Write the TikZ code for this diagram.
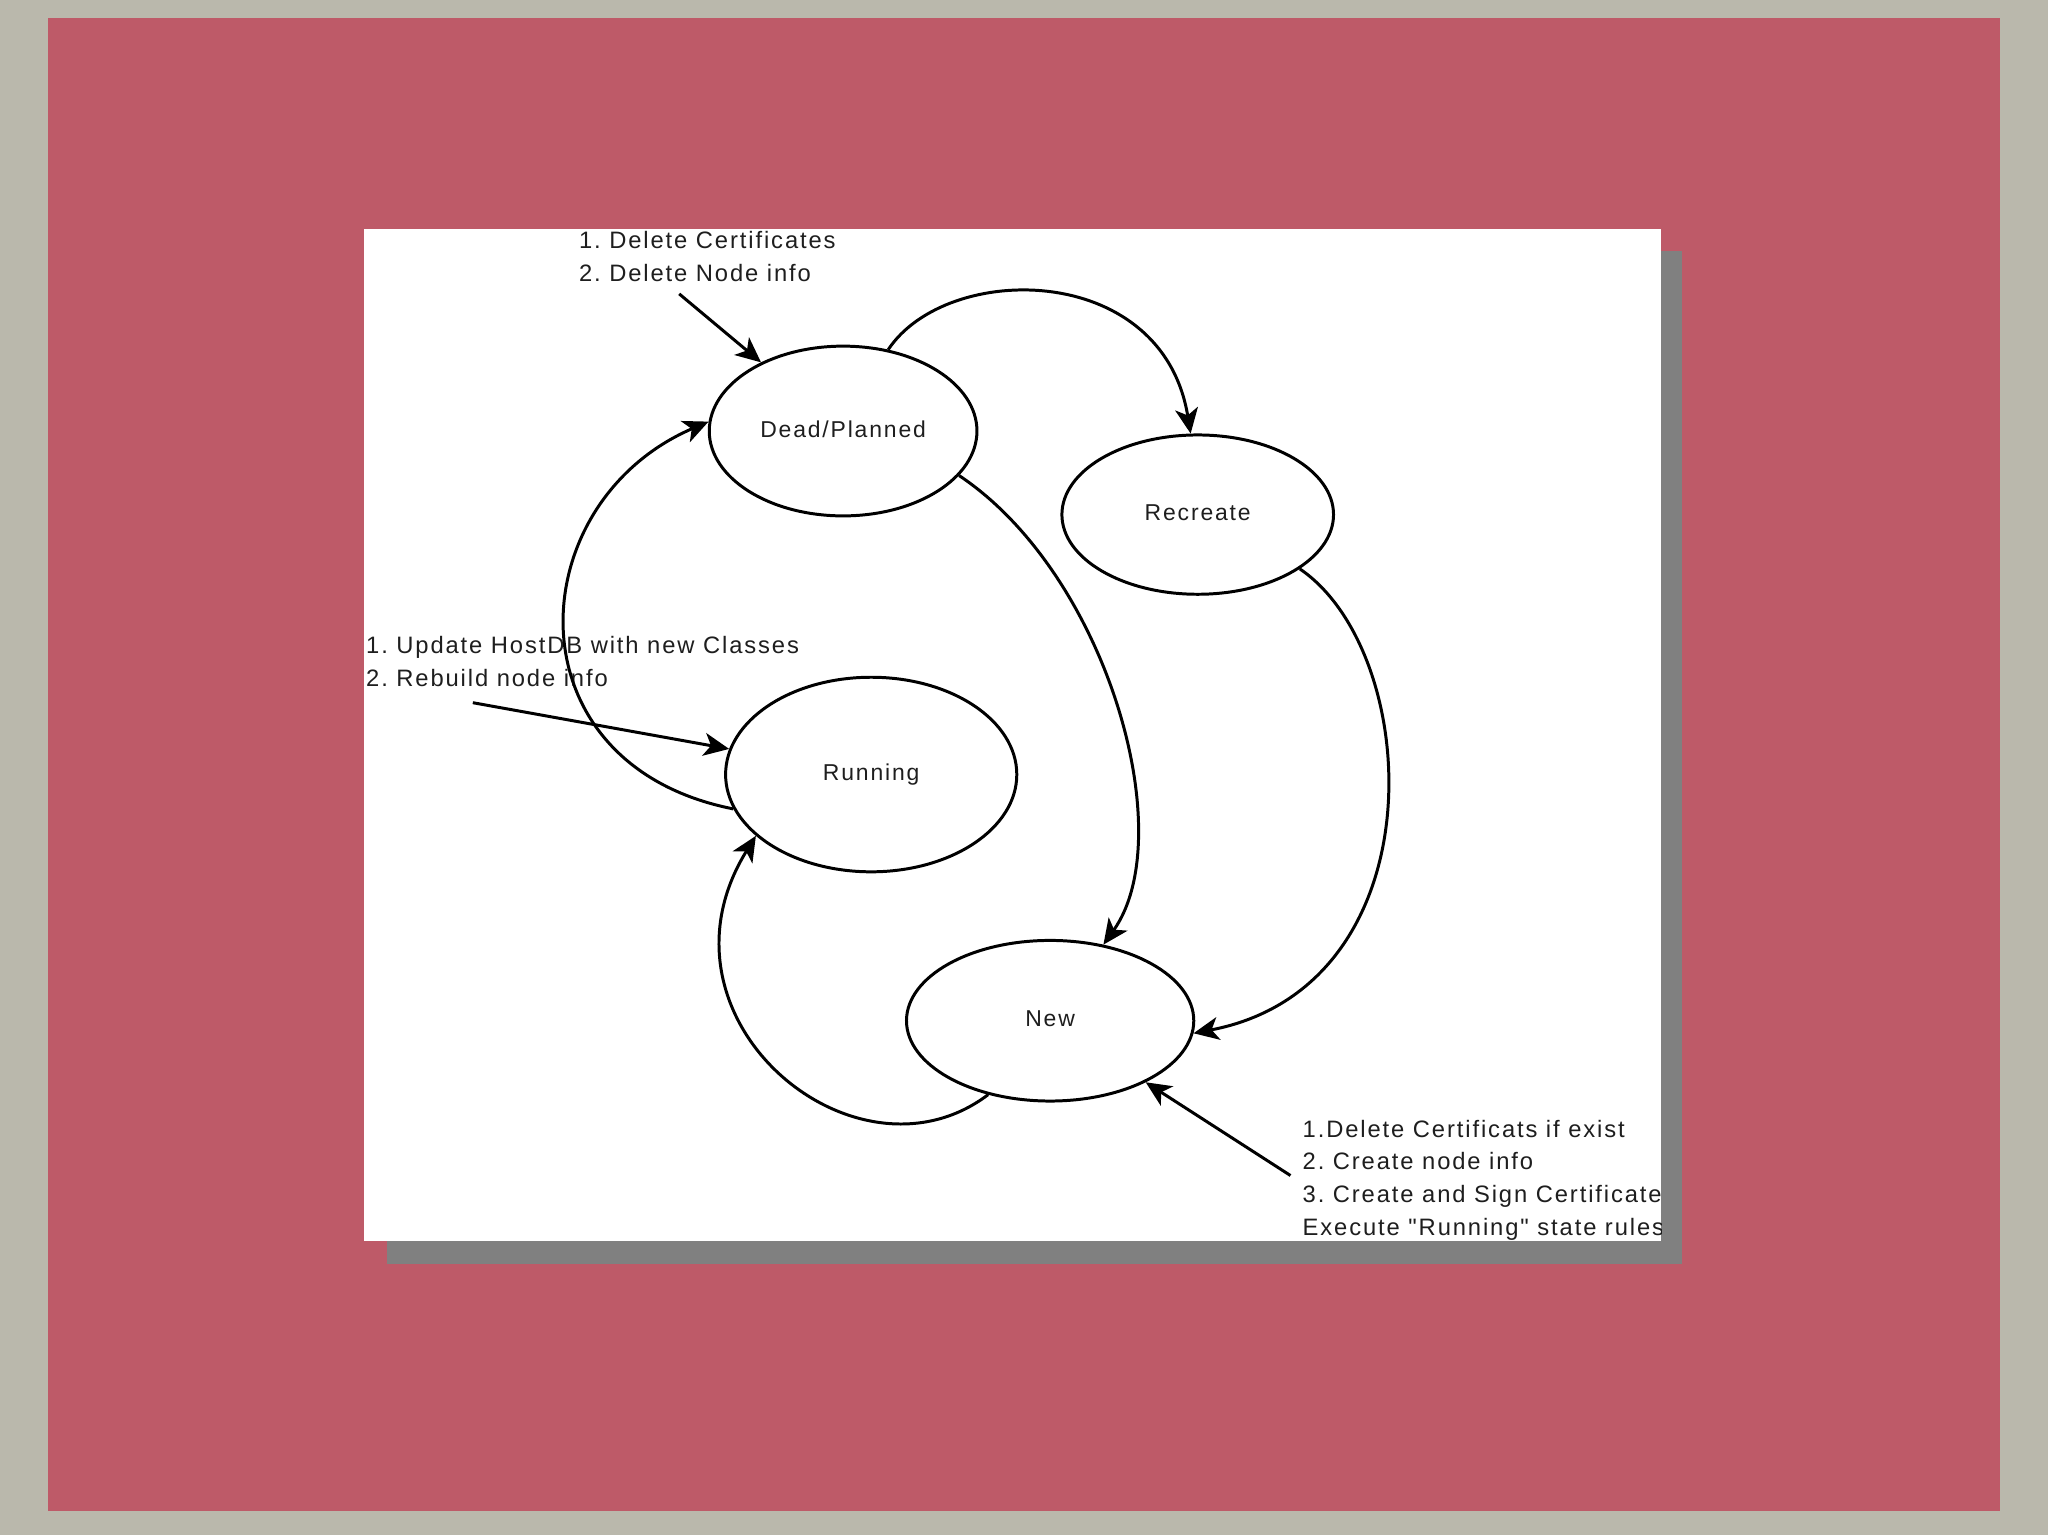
\documentclass[tikz,border=0pt]{standalone}
\usepackage{fontspec}
\setmainfont{Liberation Sans}[LetterSpace=8,Ligatures=TeXOff]
\usetikzlibrary{shapes.geometric,arrows.meta}
\definecolor{bggray}{RGB}{186,184,172}
\definecolor{framered}{RGB}{190,90,104}
\definecolor{shadowgray}{RGB}{128,128,128}
\definecolor{txt}{RGB}{30,30,30}
\frenchspacing
\begin{document}
\begin{tikzpicture}[x=0.02cm,y=-0.02cm,
  state/.style={draw=black,line width=1.3pt,ellipse,inner sep=0pt,font=\fontsize{10}{12}\selectfont,text=txt},
  note/.style={inner sep=0pt,anchor=west,align=left,font=\fontsize{10.35}{14.2}\selectfont,text=txt},
  conn/.style={draw=black,line width=1.3pt,-{Stealth[length=11pt,width=10pt,inset=3pt]}}
]
\fill[bggray] (0,0) rectangle (1568,1175);
\useasboundingbox (0,0) rectangle (1568,1175);
\fill[framered] (37,14) rectangle (1531,1157);
\fill[shadowgray] (296,192) rectangle (1288,968);
\fill[white] (279,175) rectangle (1272,950);
\begin{scope}
\clip (279,175) rectangle (1272,950);
% states
\node[state,minimum width=4.1cm,minimum height=2.6cm] (dead) at (645.5,330) {\raisebox{1.5pt}{Dead/Planned}};
\node[state,minimum width=4.16cm,minimum height=2.44cm] (rec) at (917,394) {\raisebox{1.5pt}{Recreate}};
\node[state,minimum width=4.46cm,minimum height=2.98cm] (run) at (667,593) {\raisebox{1.2pt}{Running}};
\node[state,minimum width=4.4cm,minimum height=2.46cm] (new) at (804,781.5) {\raisebox{2pt}{New}};
% notes
\node[note] (n1) at (443,196.5) {1. Delete Certificates\\2. Delete Node info};
\node[note] (n2) at (280,506.5) {1. Update HostDB with new Classes\\2. Rebuild node info};
\node[note] (n3) at (997,903.5) {1.Delete Certificats if exist\\2. Create node info\\3. Create and Sign Certificates\\Execute "Running" state rules};
\coordinate (c1) at (520,225);
\coordinate (c2) at (362,538);
\coordinate (c3) at (988,900);
% connectors
\draw[conn] (c1) -- (dead);
\draw[conn] (c2) -- (run);
\draw[conn] (c3) -- (new);
\draw[conn] (dead.61) .. controls (725,200) and (890,200) .. (rec.95);
\draw[conn] (dead.339) .. controls (848,440) and (904,640) .. (new.55);
\draw[conn] (rec.332) .. controls (1090,500) and (1102,755) .. (new.355);
\draw[conn] (run.194) .. controls (388,585) and (398,385) .. (dead.176);
\draw[conn] (new.230) .. controls (655,915) and (492,780) .. (run.208);
\end{scope}
\end{tikzpicture}
\end{document}
